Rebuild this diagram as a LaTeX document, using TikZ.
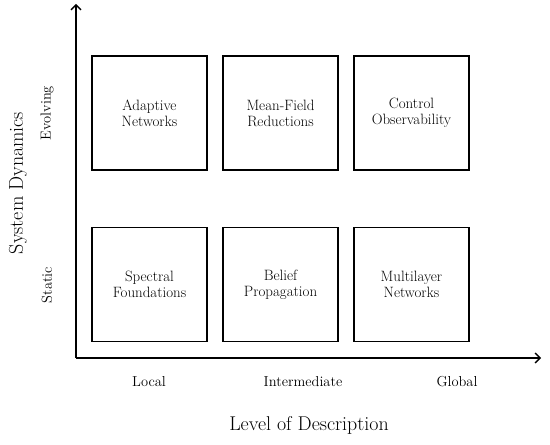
\documentclass[tikz,border=0pt]{standalone}
\usetikzlibrary{arrows.meta}
\begin{document}
\begin{tikzpicture}[x=1bp,y=-1bp,
  cell/.style={draw, line width=1.3bp, minimum width=115bp, minimum height=114bp, align=center, inner sep=0pt, font=\fontsize{15}{16}\selectfont},
  axis/.style={line width=1.3bp, -{Straight Barb[length=5bp,width=10bp,line width=1.3bp]}},
  tick/.style={font=\fontsize{14.5}{16}\selectfont},
  title/.style={font=\fontsize{20}{23}\selectfont}]
\useasboundingbox (0,0) rectangle (550,445);
\coordinate (O) at (76,358);
\coordinate (Ytop) at (76,4);
\coordinate (Xend) at (541,358);
\draw[axis] (O) -- (Ytop);
\draw[axis] (O) -- (Xend);
\node[cell] (a) at (149.5,113) {Adaptive\\Networks};
\node[cell] (b) at (280.5,113) {Mean-Field\\Reductions};
\node[cell] (c) at (411.5,113) {Control\\Observability};
\node[cell] (d) at (149.5,284.5) {Spectral\\Foundations};
\node[cell] (e) at (280.5,284.5) {Belief\\Propagation};
\node[cell] (f) at (411.5,284.5) {Multilayer\\Networks};
\node[tick] (loc) at (149,382) {Local};
\node[tick] (int) at (303,382) {Intermediate};
\node[tick] (glo) at (457,382) {Global};
\node[title] (xl) at (309,425) {Level of Description};
\node[tick, rotate=90] (evo) at (47,113) {Evolving};
\node[tick, rotate=90] (sta) at (47,285) {Static};
\node[title, rotate=90] (yl) at (18,183) {System Dynamics};
\end{tikzpicture}
\end{document}
